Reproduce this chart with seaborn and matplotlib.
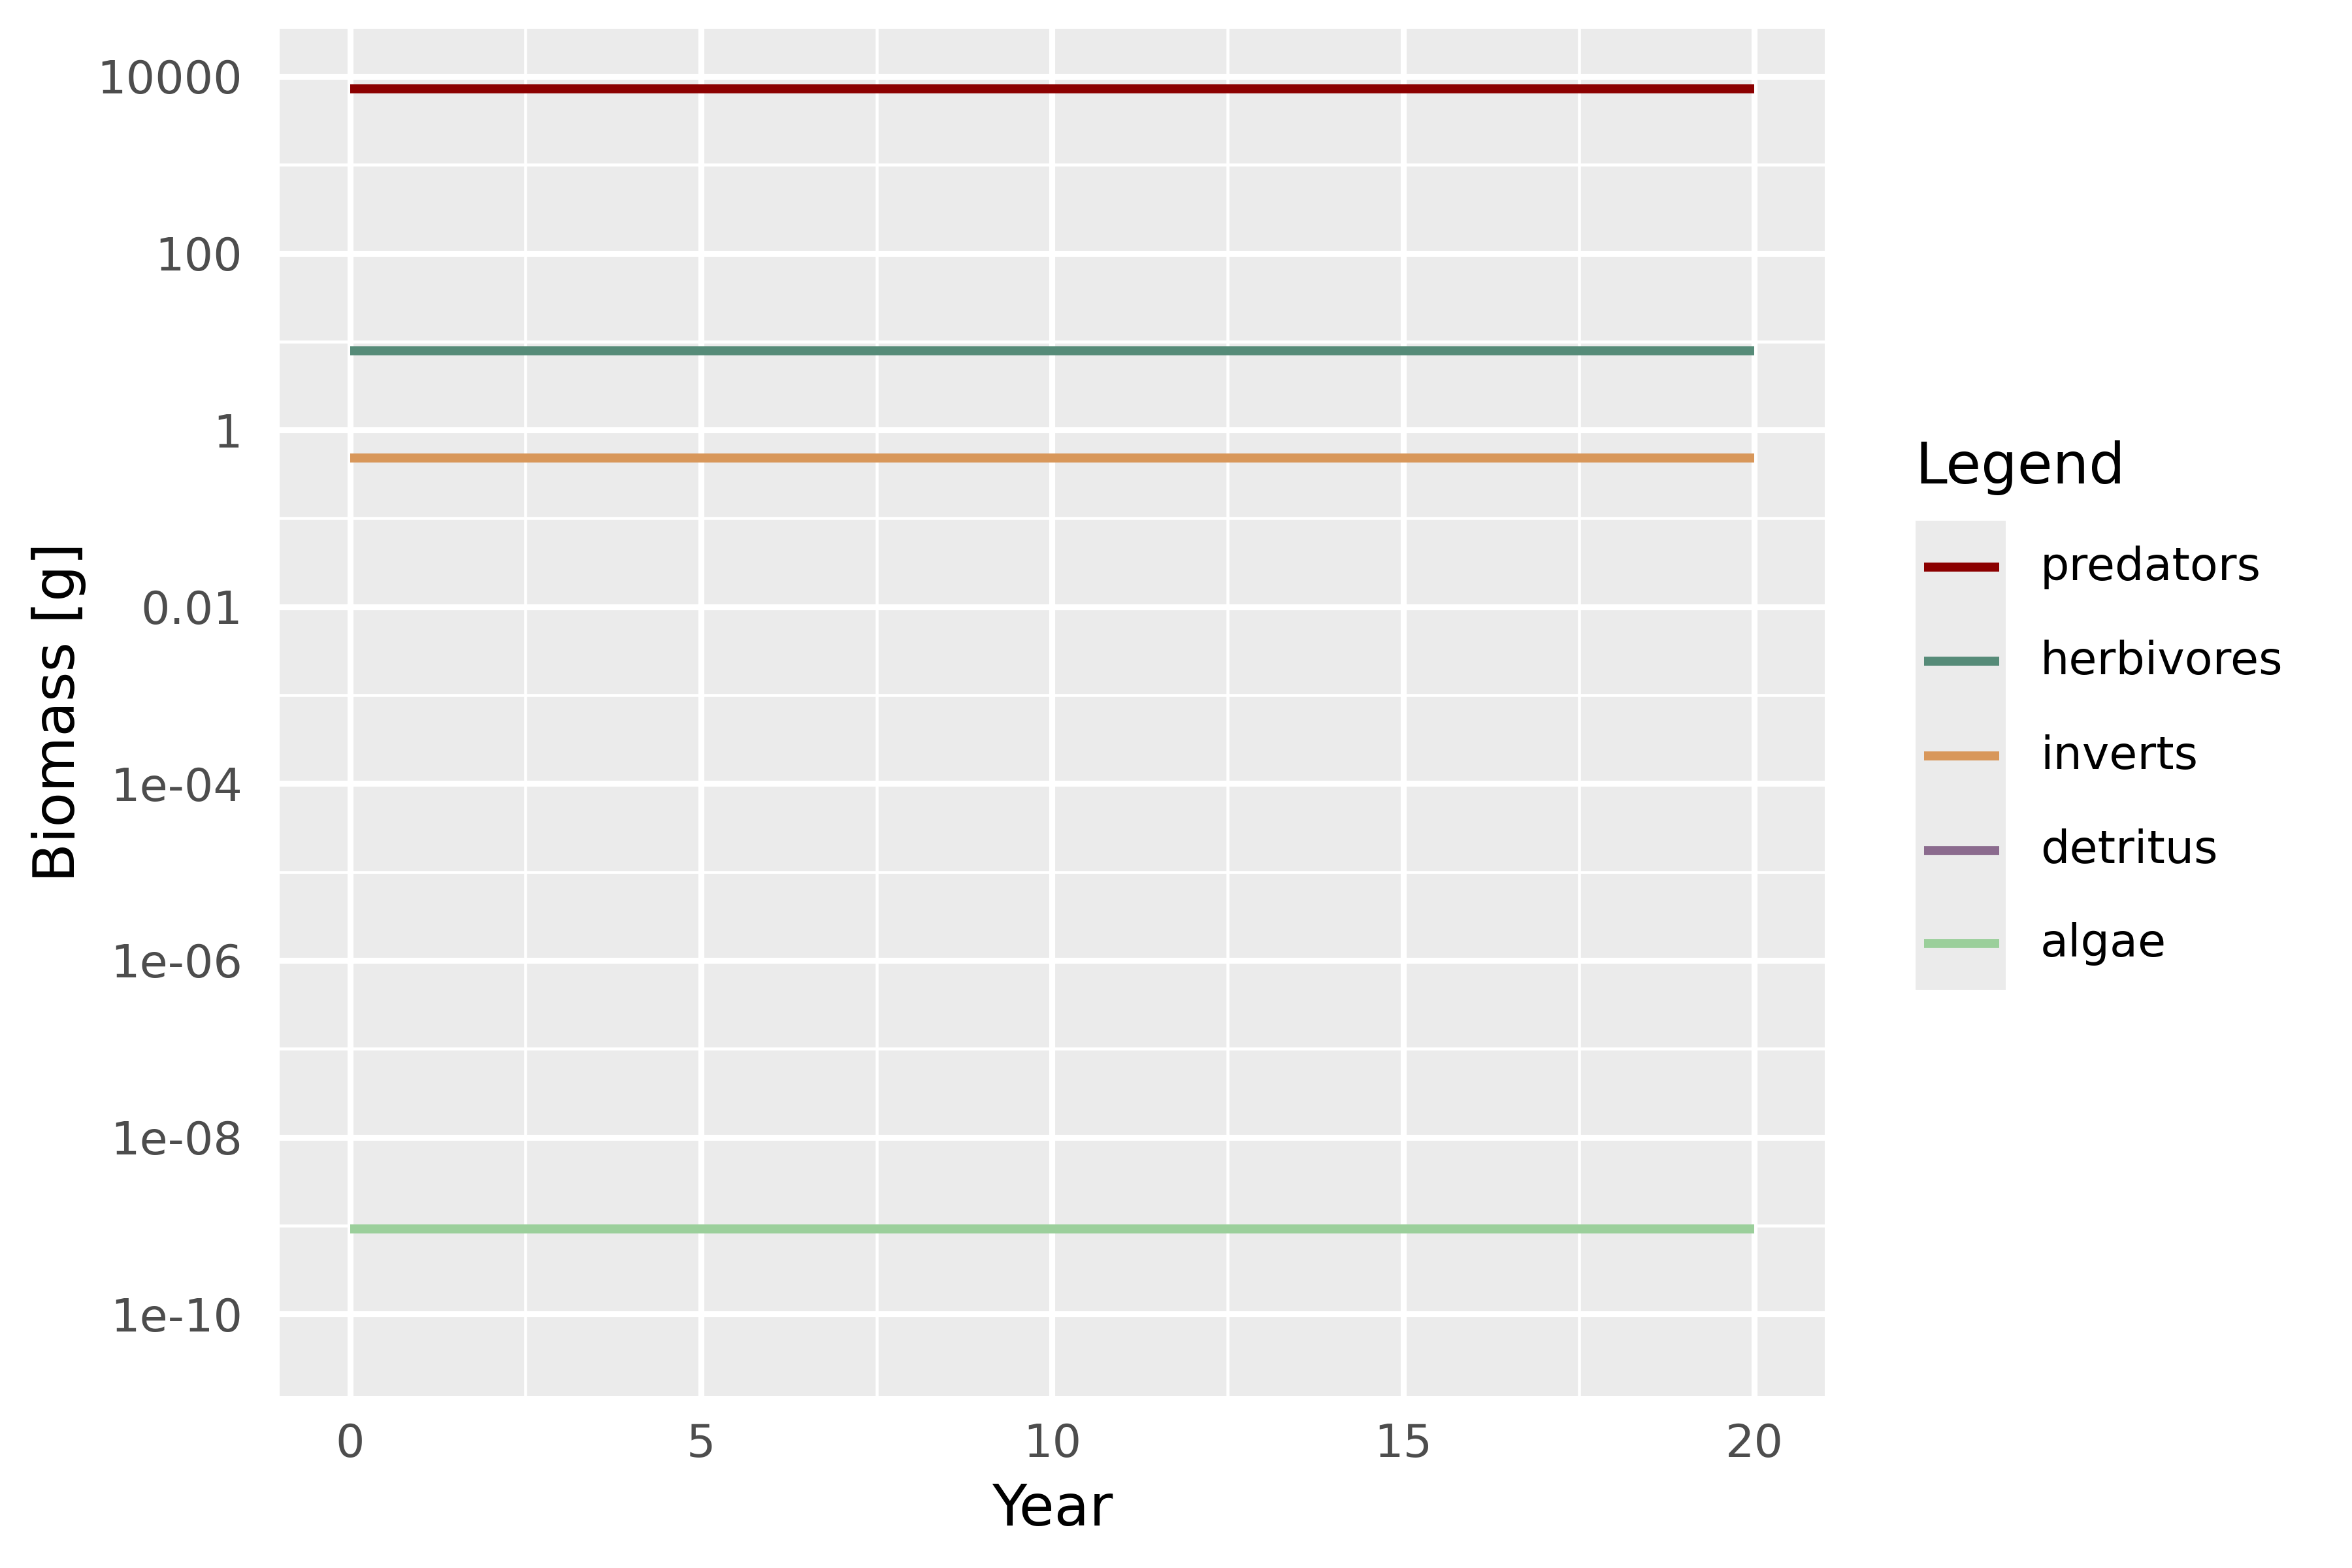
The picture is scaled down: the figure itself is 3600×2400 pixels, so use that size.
import numpy as np
import pandas as pd
import matplotlib
matplotlib.use("Agg")
import matplotlib.pyplot as plt
from matplotlib.lines import Line2D
from matplotlib.patches import Rectangle
from matplotlib.ticker import FixedLocator, NullFormatter
import seaborn as sns

# datos (lineas planas, un valor por anio)
years = [0, 1, 2, 3, 4, 5, 6, 7, 8, 9, 10, 11, 12, 13, 14, 15, 16, 17, 18, 19, 20]
predators = [7200] * 21
herbivores = [7.8] * 21
inverts = [0.48] * 21
detritus = [np.nan] * 21   # no se ve en el grafico
algae = [9.1e-10] * 21

groups = ["predators", "herbivores", "inverts", "detritus", "algae"]
colors = ["#8B0000", "#568B78", "#D8975A", "#8B6B8E", "#9BCF9B"]

y_breaks = [1e4, 1e2, 1, 1e-2, 1e-4, 1e-6, 1e-8, 1e-10]
y_labels = ["10000", "100", "1", "0.01", "1e-04", "1e-06", "1e-08", "1e-10"]
y_minor = [1e3, 10, 0.1, 1e-3, 1e-5, 1e-7, 1e-9]
x_breaks = [0, 5, 10, 15, 20]
x_minor = [2.5, 7.5, 12.5, 17.5]

# tabla larga para seaborn
series = {"predators": predators, "herbivores": herbivores, "inverts": inverts,
          "detritus": detritus, "algae": algae}
rows = []
for g in groups:
    for yr, v in zip(years, series[g]):
        rows.append({"Year": yr, "Biomass": v, "Legend": g})
df = pd.DataFrame(rows).dropna()

sns.set_theme(style="darkgrid", rc={
    "axes.facecolor": "#EBEBEB",
    "grid.color": "white",
    "axes.edgecolor": "#EBEBEB",
})
plt.rcParams["font.family"] = ["DejaVu Sans"]

fig = plt.figure(figsize=(12, 8), dpi=300)
ax = fig.add_axes([0.1189, 0.1096, 0.7758 - 0.1189, 0.9817 - 0.1096])

palette = {g: c for g, c in zip(groups, colors)}
sns.lineplot(data=df, x="Year", y="Biomass", hue="Legend", hue_order=[g for g in groups if g != "detritus"],
             palette=palette, linewidth=3.3, legend=False, ax=ax, solid_capstyle="butt")

ax.set_yscale("log")
ax.set_ylim(10 ** -10.93, 10 ** 4.54)
ax.set_xlim(-1, 21)

ax.yaxis.set_major_locator(FixedLocator(y_breaks))
ax.set_yticklabels(y_labels)
ax.yaxis.set_minor_locator(FixedLocator(y_minor))
ax.yaxis.set_minor_formatter(NullFormatter())
ax.set_xticks(x_breaks)
ax.set_xticklabels([str(x) for x in x_breaks])
ax.xaxis.set_minor_locator(FixedLocator(x_minor))

ax.grid(which="major", color="white", linewidth=2.2)
ax.grid(which="minor", color="white", linewidth=1.1)
ax.set_axisbelow(True)
for s in ax.spines.values():
    s.set_visible(False)

ax.tick_params(axis="both", which="major", length=5.6, width=2.2, color="#333333",
               labelsize=16.8, labelcolor="#4D4D4D")
ax.tick_params(axis="y", which="major", pad=8)
ax.tick_params(axis="x", which="major", pad=4)
ax.tick_params(which="minor", length=0)

ax.set_xlabel("Year", fontsize=21, color="black", labelpad=6)
ax.set_ylabel("Biomass [g]", fontsize=21, color="black", labelpad=4)

# leyenda estilo ggplot
fig.text(0.8144, 0.7015, "Legend", fontsize=21, ha="left", va="center", color="black")
fig.add_artist(Rectangle((0.8144, 0.3688), 0.8528 - 0.8144, 0.668 - 0.3688,
                         transform=fig.transFigure, facecolor="#EBEBEB", edgecolor="none"))
key_y = [0.6383, 0.5783, 0.5179, 0.4575, 0.3983]
for g, c, ky in zip(groups, colors, key_y):
    fig.add_artist(Line2D([0.818, 0.85], [ky, ky], transform=fig.transFigure,
                          color=c, linewidth=3.3, solid_capstyle="butt"))
    fig.text(0.8675, ky, g, fontsize=16.8, ha="left", va="center", color="black")

fig.savefig("out.png", dpi=300, facecolor="white")
